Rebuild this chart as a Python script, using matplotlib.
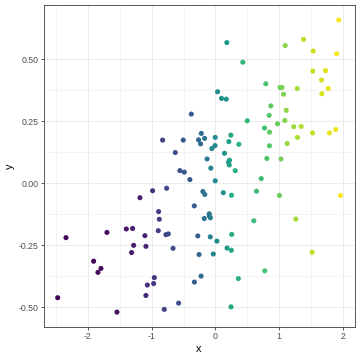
import matplotlib
matplotlib.use("Agg")
import matplotlib.pyplot as plt
import numpy as np

plt.rcParams["font.family"] = ["Liberation Sans", "DejaVu Sans"]

# values
x_vals = [
    -0.378, -0.828, -0.504, -0.264, -0.221, -0.232, -0.169, -0.629, 1.937, 0.180,
    1.096, 1.384, 1.536, 1.906, 0.431, 1.529, 1.729, 1.666, 0.792, 1.015,
    1.046, 1.285, 1.771, 1.070, 1.671, 0.035, 0.097, 0.171, 0.871, 1.112,
    0.845, 0.500, 1.090, 0.976, 0.772, 1.231, 1.347, 0.850, 1.890, 1.791,
    1.525, 1.289, -0.002, 0.243, 0.212, -0.005, -0.055, 0.369, 0.850, 1.128,
    0.144, -0.130, 0.223, 0.207, 0.218, 0.808, 1.031, -0.071, 0.312, -0.557,
    -0.488, -0.400, -0.985, -0.765, -1.184, -0.331, -0.891, -0.880, -1.702, -2.345,
    -1.398, -1.299, -1.106, -0.896, -0.776, -0.739, -0.276, -1.283, -1.090, -1.315,
    -0.664, -0.256, -1.911, -1.796, -1.843, -0.958, -0.969, -1.068, -0.224, -0.329,
    -1.090, -0.577, -0.802, -1.545, -2.475, -0.002, 0.720, -0.196, -0.166, 0.125,
    0.254, 0.646, 1.007, 1.964, -0.096, -0.096, -0.078, -0.174, 0.604, 1.263,
    -0.080, 0.024, 0.257, 0.184, 0.251, -0.033, 1.520, 0.776, 0.361, 0.246,
]
y_vals = [
    0.279, 0.174, 0.174, 0.175, 0.201, 0.159, 0.181, 0.124, 0.658, 0.567,
    0.555, 0.580, 0.533, 0.522, 0.488, 0.452, 0.454, 0.416, 0.401, 0.386,
    0.386, 0.382, 0.382, 0.359, 0.361, 0.369, 0.342, 0.339, 0.312, 0.294,
    0.274, 0.252, 0.253, 0.240, 0.223, 0.228, 0.229, 0.206, 0.217, 0.203,
    0.203, 0.185, 0.185, 0.194, 0.168, 0.152, 0.140, 0.157, 0.151, 0.160,
    0.121, 0.098, 0.093, 0.085, 0.074, 0.100, 0.098, 0.061, 0.051, 0.051,
    0.045, 0.015, -0.030, -0.020, -0.058, -0.091, -0.114, -0.145, -0.198, -0.219,
    -0.184, -0.182, -0.211, -0.191, -0.207, -0.204, -0.212, -0.250, -0.254, -0.279,
    -0.262, -0.287, -0.314, -0.343, -0.359, -0.380, -0.404, -0.410, -0.374, -0.398,
    -0.452, -0.483, -0.508, -0.519, -0.461, 0.010, 0.019, -0.033, -0.045, -0.038,
    -0.048, -0.032, -0.049, -0.049, -0.123, -0.131, -0.139, -0.142, -0.151, -0.144,
    -0.216, -0.233, -0.206, -0.261, -0.270, -0.285, -0.278, -0.353, -0.384, -0.498,
]
x_ticks = [-2, -1, 0, 1, 2]
y_ticks = [-0.50, -0.25, 0.00, 0.25, 0.50]

x = np.array(x_vals)
y = np.array(y_vals)
# colour follows the rank of x (looks more even than a straight x scale)
colour = np.argsort(np.argsort(x))

fig = plt.figure(figsize=(5, 5), dpi=72)
ax = fig.add_axes([0.121, 0.0925, 0.864, 0.8925])

ax.scatter(x, y, c=colour, cmap="viridis", s=26, linewidths=0, zorder=3)
ax.margins(0.05)

ax.set_xticks(x_ticks)
ax.set_xticklabels([str(t) for t in x_ticks])
ax.set_yticks(y_ticks)
ax.set_yticklabels([f"{t:.2f}" for t in y_ticks])
ax.set_xticks([-2.5, -1.5, -0.5, 0.5, 1.5], minor=True)
ax.set_yticks([-0.375, -0.125, 0.125, 0.375], minor=True)

ax.grid(True, which="major", color="#EBEBEB", linewidth=1.0, zorder=0)
ax.grid(True, which="minor", color="#EBEBEB", linewidth=0.5, zorder=0)
ax.set_axisbelow(True)
for sp in ax.spines.values():
    sp.set_color("#333333")
    sp.set_linewidth(0.8)

ax.tick_params(which="major", length=2.75, width=0.8, color="#333333",
               labelsize=8.8, labelcolor="#4D4D4D", pad=2.2)
ax.tick_params(which="minor", length=0)
ax.set_xlabel("x", fontsize=11, color="black", labelpad=3)
ax.set_ylabel("y", fontsize=11, color="black", labelpad=4)

fig.savefig("out.png", dpi=72)
